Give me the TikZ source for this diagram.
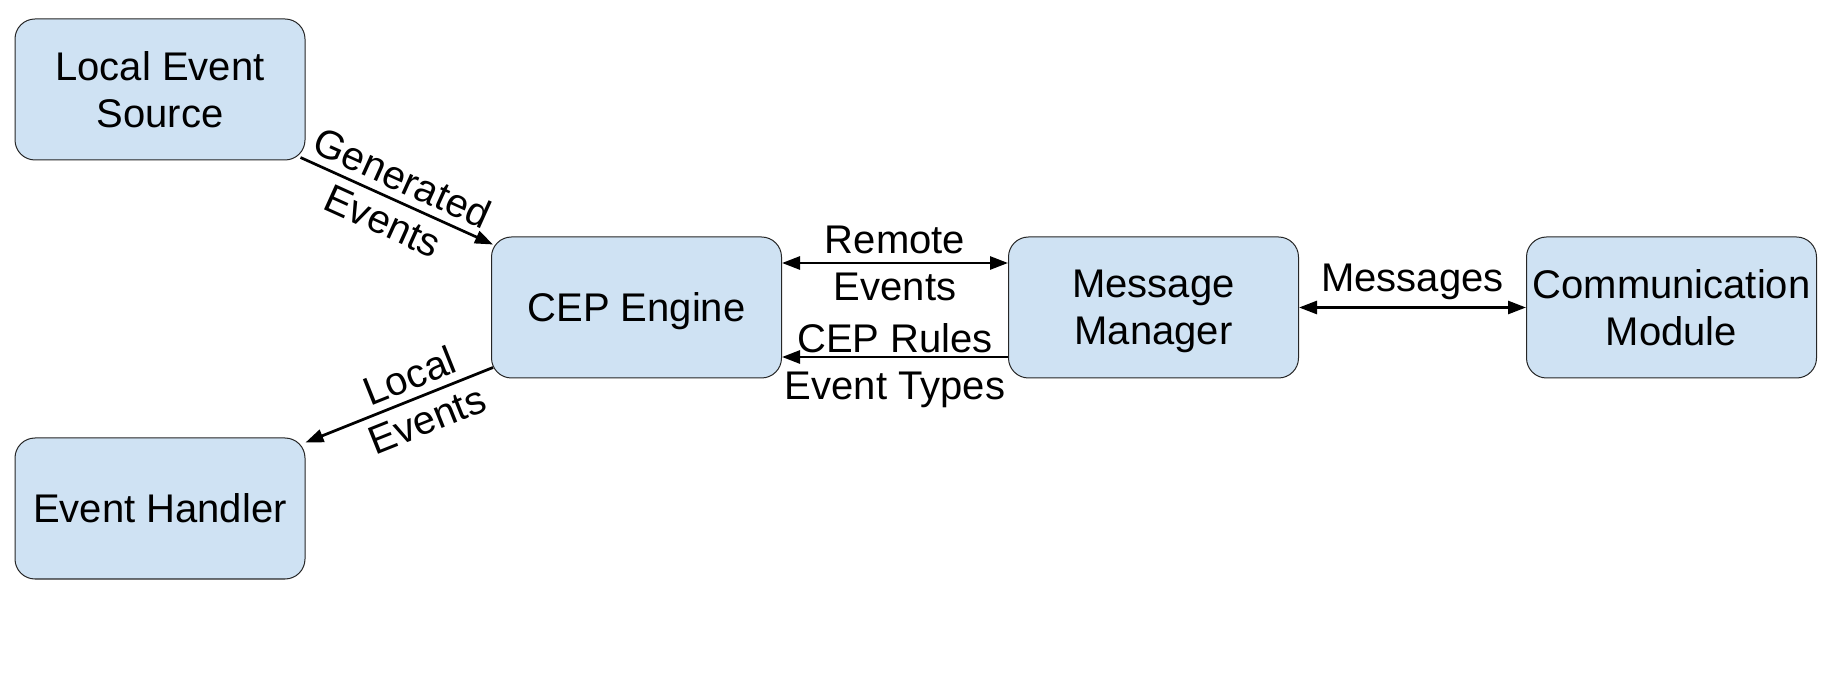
\documentclass[tikz,border=0pt]{standalone}
\usepackage{fontspec}
\setmainfont{Liberation Sans}
\usetikzlibrary{arrows.meta,calc}
\definecolor{boxblue}{HTML}{CFE2F3}
\newcommand{\diagfont}{\fontsize{40}{47}\selectfont}

\begin{document}
\begin{tikzpicture}[x=1pt,y=1pt,
        block/.style={draw=black!85, line width=1pt, fill=boxblue, rounded corners=20pt,
            minimum width=290pt, minimum height=141pt, inner sep=0pt, align=center, font=\diagfont,
            text depth=0pt},
        link/.style={line width=2.7pt, -{Triangle[length=18pt,width=13pt]}},
        twoway/.style={line width=2.7pt, {Triangle[length=18pt,width=13pt]}-{Triangle[length=18pt,width=13pt]}},
        lbl/.style={inner sep=0pt, align=center, font=\diagfont}]
        \useasboundingbox (0,0) rectangle (1833,672);
        % boxes
        \node[block] (source) at (160,582.5) {Local Event\\Source};
        \node[block] (engine) at (636.5,364.5) {CEP Engine};
        \node[block] (manager) at (1153.5,364.5) {Message\\Manager};
        \node[block] (comm) at (1671.5,364.5) {Communication\\Module};
        \node[block] (handler) at (160,163.5) {Event Handler};
        % connectors
        \draw[link] ($(source.south east)+(-5,3)$) -- ($(engine.north west)+(2,-8)$)
            node[lbl, pos=.48, sloped] {Generated\\Events};
        \draw[link] ($(engine.south west)+(2,11)$) -- ($(handler.north east)+(0,-5)$)
            node[lbl, pos=.4, sloped] {Local\\Events};
        \draw[twoway] ([yshift=44.5pt]engine.east) -- ([yshift=44.5pt]manager.west)
            node[lbl, midway] {Remote\\Events};
        \draw[link] ([yshift=-49.5pt]manager.west) -- ([yshift=-49.5pt]engine.east)
            node[lbl, midway, yshift=-9pt] {CEP Rules\\Event Types};
        \draw[twoway] (manager) -- (comm)
            node[lbl, midway, anchor=base, yshift=16pt] {Messages};
    \end{tikzpicture}
\end{document}
